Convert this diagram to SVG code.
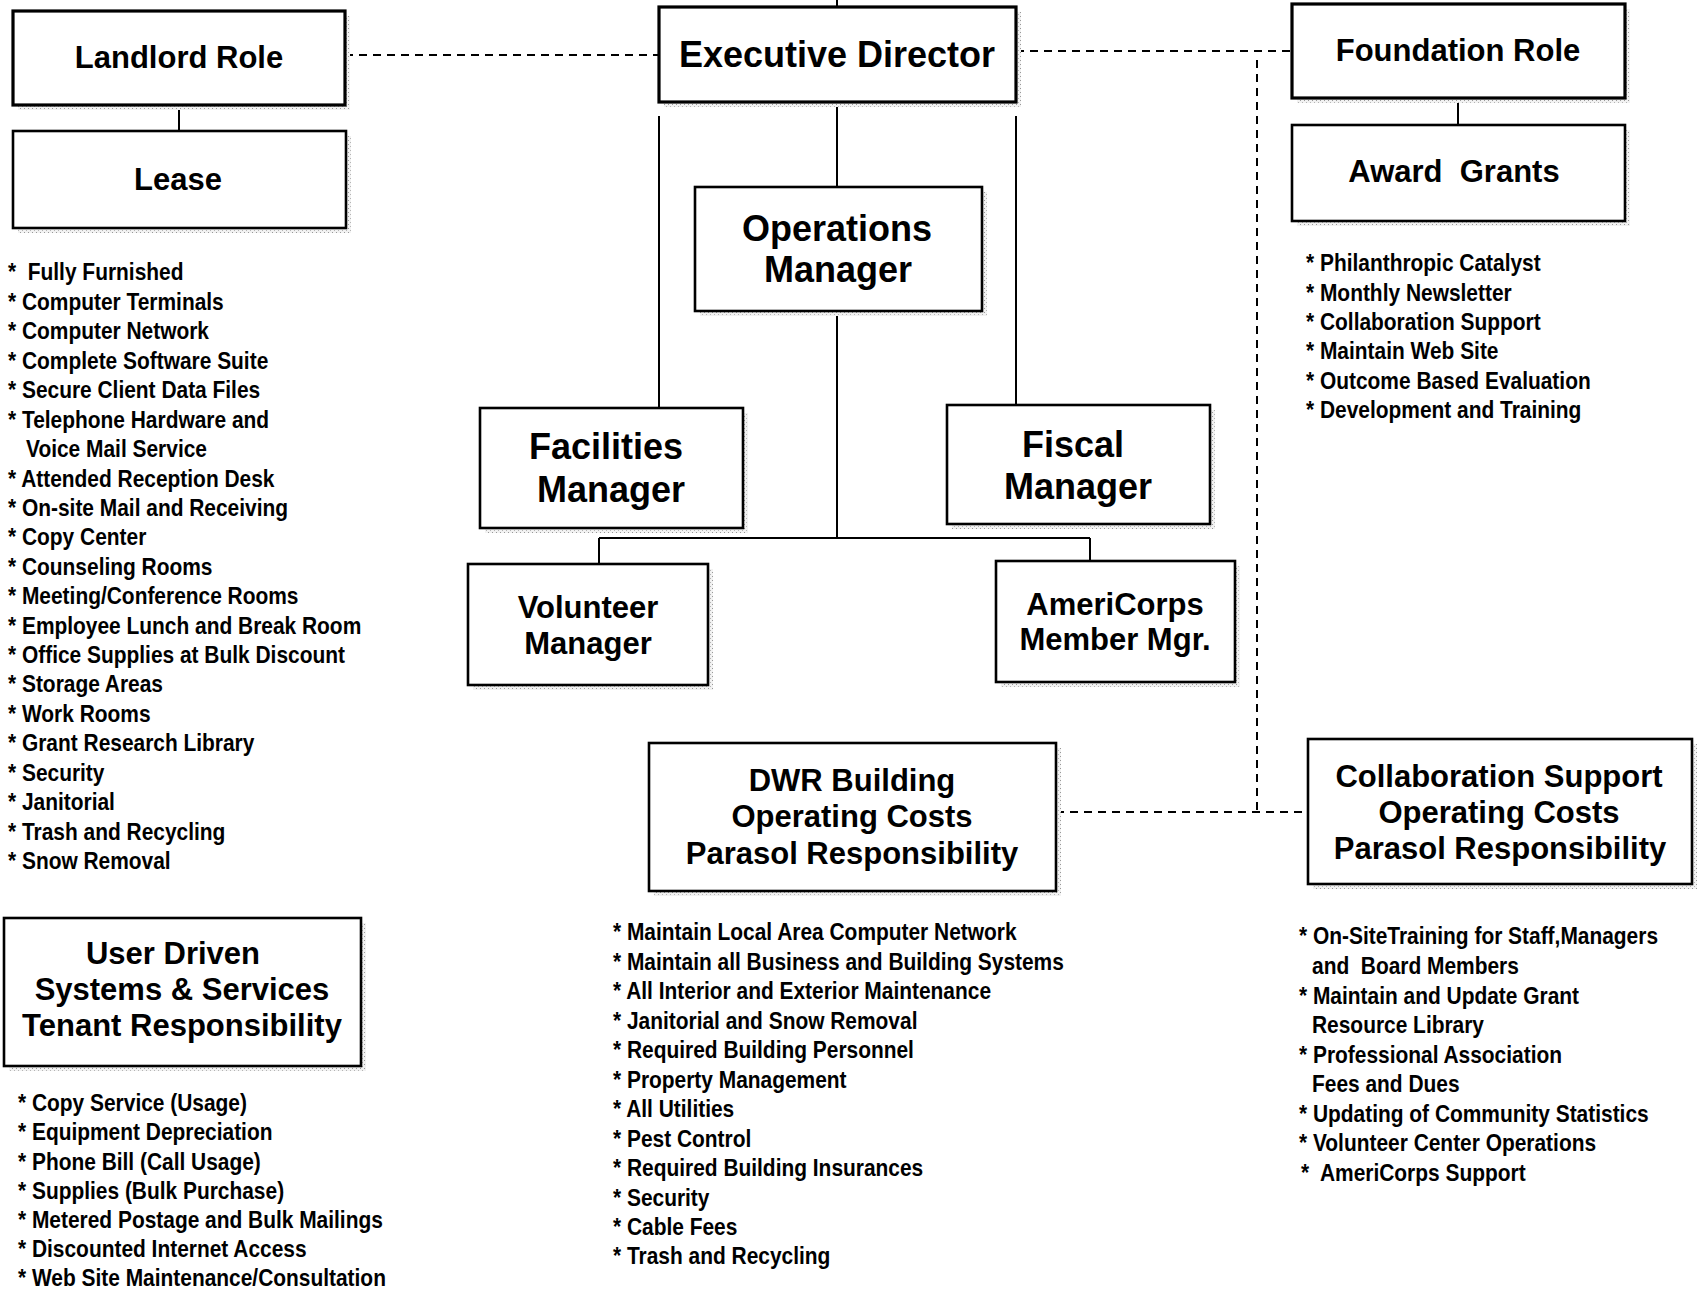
<svg xmlns="http://www.w3.org/2000/svg" width="1699" height="1299" viewBox="0 0 1699 1299">
<style>
text{font-family:"Liberation Sans",Arial,sans-serif;font-weight:bold;fill:#000}
.t31{font-size:31px;text-anchor:middle}
.t36{font-size:36px;text-anchor:middle}
.li{font-size:23px;white-space:pre}
.box{fill:#fff;stroke:#000;stroke-width:2.6}
.thick{stroke-width:3.2}
.sh{fill:url(#grain)}
.ln{stroke:#000;stroke-width:2;fill:none}
.dash{stroke:#000;stroke-width:2;fill:none;stroke-dasharray:8 6}
</style>
<defs>
<pattern id="grain" width="4" height="4" patternUnits="userSpaceOnUse">
<rect width="4" height="4" fill="#f2f2f2"/>
<rect x="0" y="0" width="1" height="1" fill="#999"/>
<rect x="2" y="2" width="1" height="1" fill="#b5b5b5"/>
</pattern>
</defs>
<rect width="1699" height="1299" fill="#fff"/>

<g id="connectors">
<line class="ln" x1="837" y1="0" x2="837" y2="7"/>
<line class="ln" x1="179" y1="105" x2="179" y2="131"/>
<line class="ln" x1="1458" y1="98" x2="1458" y2="125"/>
<line class="dash" x1="345" y1="55" x2="659" y2="55"/>
<line class="dash" x1="1016" y1="51" x2="1292" y2="51"/>
<line class="dash" x1="1257" y1="60" x2="1257" y2="812"/>
<line class="dash" x1="1056" y1="812" x2="1308" y2="812"/>
<line class="ln" x1="837" y1="102" x2="837" y2="187"/>
<line class="ln" x1="659" y1="116" x2="659" y2="408"/>
<line class="ln" x1="1016" y1="116" x2="1016" y2="405"/>
<line class="ln" x1="837" y1="311" x2="837" y2="538"/>
<line class="ln" x1="599" y1="538" x2="1090" y2="538"/>
<line class="ln" x1="599" y1="538" x2="599" y2="564"/>
<line class="ln" x1="1090" y1="538" x2="1090" y2="561"/>
</g>

<g id="landlord-role">
<rect class="sh" x="18" y="16" width="332" height="94"/>
<rect class="box thick" x="13" y="11" width="332" height="94"/>
<text class="t31" x="179" y="68">Landlord Role</text>
</g>
<g id="lease">
<rect class="sh" x="18" y="136" width="333" height="97"/>
<rect class="box" x="13" y="131" width="333" height="97"/>
<text class="t31" x="178" y="190">Lease</text>
</g>
<g id="executive-director">
<rect class="sh" x="664" y="12" width="357" height="95"/>
<rect class="box thick" x="659" y="7" width="357" height="95"/>
<text class="t36" x="837" y="67">Executive Director</text>
</g>
<g id="foundation-role">
<rect class="sh" x="1297" y="9" width="333" height="94"/>
<rect class="box thick" x="1292" y="4" width="333" height="94"/>
<text class="t31" x="1458" y="61">Foundation Role</text>
</g>
<g id="award-grants">
<rect class="sh" x="1297" y="130" width="333" height="96"/>
<rect class="box" x="1292" y="125" width="333" height="96"/>
<text class="t31" x="1454" y="182" xml:space="preserve">Award  Grants</text>
</g>
<g id="operations-manager">
<rect class="sh" x="700" y="192" width="287" height="124"/>
<rect class="box" x="695" y="187" width="287" height="124"/>
<text class="t36" x="837" y="241">Operations</text>
<text class="t36" x="838" y="282">Manager</text>
</g>
<g id="facilities-manager">
<rect class="sh" x="485" y="413" width="263" height="120"/>
<rect class="box" x="480" y="408" width="263" height="120"/>
<text class="t36" x="606" y="459">Facilities</text>
<text class="t36" x="611" y="502">Manager</text>
</g>
<g id="fiscal-manager">
<rect class="sh" x="952" y="410" width="263" height="119"/>
<rect class="box" x="947" y="405" width="263" height="119"/>
<text class="t36" x="1073" y="457">Fiscal</text>
<text class="t36" x="1078" y="499">Manager</text>
</g>
<g id="volunteer-manager">
<rect class="sh" x="473" y="569" width="240" height="121"/>
<rect class="box" x="468" y="564" width="240" height="121"/>
<text class="t31" x="588" y="618">Volunteer</text>
<text class="t31" x="588" y="654">Manager</text>
</g>
<g id="americorps-member-mgr">
<rect class="sh" x="1001" y="566" width="239" height="121"/>
<rect class="box" x="996" y="561" width="239" height="121"/>
<text class="t31" x="1115" y="615">AmeriCorps</text>
<text class="t31" x="1115" y="650">Member Mgr.</text>
</g>
<g id="dwr-building">
<rect class="sh" x="654" y="748" width="407" height="148"/>
<rect class="box" x="649" y="743" width="407" height="148"/>
<text class="t31" x="852" y="791">DWR Building</text>
<text class="t31" x="852" y="827">Operating Costs</text>
<text class="t31" x="852" y="864">Parasol Responsibility</text>
</g>
<g id="collaboration-support">
<rect class="sh" x="1313" y="744" width="384" height="145"/>
<rect class="box" x="1308" y="739" width="384" height="145"/>
<text class="t31" x="1499" y="787">Collaboration Support</text>
<text class="t31" x="1499" y="823">Operating Costs</text>
<text class="t31" x="1500" y="859">Parasol Responsibility</text>
</g>
<g id="user-driven">
<rect class="sh" x="9" y="923" width="357" height="148"/>
<rect class="box" x="4" y="918" width="357" height="148"/>
<text class="t31" x="173" y="964">User Driven</text>
<text class="t31" x="182" y="1000">Systems &amp; Services</text>
<text class="t31" x="182" y="1036">Tenant Responsibility</text>
</g>

<g id="lease-list" transform="translate(8,0) scale(0.91,1)">
<text class="li" x="0" y="280.5" xml:space="preserve">*  Fully Furnished</text>
<text class="li" x="0" y="310">* Computer Terminals</text>
<text class="li" x="0" y="339.5">* Computer Network</text>
<text class="li" x="0" y="369">* Complete Software Suite</text>
<text class="li" x="0" y="398.5">* Secure Client Data Files</text>
<text class="li" x="0" y="428">* Telephone Hardware and</text>
<text class="li" x="19.8" y="457.5">Voice Mail Service</text>
<text class="li" x="0" y="487">* Attended Reception Desk</text>
<text class="li" x="0" y="516">* On-site Mail and Receiving</text>
<text class="li" x="0" y="545.5">* Copy Center</text>
<text class="li" x="0" y="575">* Counseling Rooms</text>
<text class="li" x="0" y="604.5">* Meeting/Conference Rooms</text>
<text class="li" x="0" y="634">* Employee Lunch and Break Room</text>
<text class="li" x="0" y="663">* Office Supplies at Bulk Discount</text>
<text class="li" x="0" y="692.5">* Storage Areas</text>
<text class="li" x="0" y="722">* Work Rooms</text>
<text class="li" x="0" y="751.5">* Grant Research Library</text>
<text class="li" x="0" y="781">* Security</text>
<text class="li" x="0" y="810.5">* Janitorial</text>
<text class="li" x="0" y="840">* Trash and Recycling</text>
<text class="li" x="0" y="869.5">* Snow Removal</text>
</g>

<g id="award-grants-list" transform="translate(1306,0) scale(0.91,1)">
<text class="li" x="0" y="271.5">* Philanthropic Catalyst</text>
<text class="li" x="0" y="301">* Monthly Newsletter</text>
<text class="li" x="0" y="330.5">* Collaboration Support</text>
<text class="li" x="0" y="359.5">* Maintain Web Site</text>
<text class="li" x="0" y="389">* Outcome Based Evaluation</text>
<text class="li" x="0" y="418.5">* Development and Training</text>
</g>

<g id="dwr-list" transform="translate(613,0) scale(0.91,1)">
<text class="li" x="0" y="940.5">* Maintain Local Area Computer Network</text>
<text class="li" x="0" y="970">* Maintain all Business and Building Systems</text>
<text class="li" x="0" y="999.4">* All Interior and Exterior Maintenance</text>
<text class="li" x="0" y="1028.9">* Janitorial and Snow Removal</text>
<text class="li" x="0" y="1058.3">* Required Building Personnel</text>
<text class="li" x="0" y="1087.8">* Property Management</text>
<text class="li" x="0" y="1117.2">* All Utilities</text>
<text class="li" x="0" y="1146.7">* Pest Control</text>
<text class="li" x="0" y="1176.1">* Required Building Insurances</text>
<text class="li" x="0" y="1205.6">* Security</text>
<text class="li" x="0" y="1235">* Cable Fees</text>
<text class="li" x="0" y="1264.5">* Trash and Recycling</text>
</g>

<g id="user-driven-list" transform="translate(18,0) scale(0.91,1)">
<text class="li" x="0" y="1111.5">* Copy Service (Usage)</text>
<text class="li" x="0" y="1140.5">* Equipment Depreciation</text>
<text class="li" x="0" y="1170">* Phone Bill (Call Usage)</text>
<text class="li" x="0" y="1199">* Supplies (Bulk Purchase)</text>
<text class="li" x="0" y="1228">* Metered Postage and Bulk Mailings</text>
<text class="li" x="0" y="1257">* Discounted Internet Access</text>
<text class="li" x="0" y="1286">* Web Site Maintenance/Consultation</text>
</g>

<g id="collaboration-list" transform="translate(1299,0) scale(0.91,1)">
<text class="li" x="0" y="944.5">* On-SiteTraining for Staff,Managers</text>
<text class="li" x="14.3" y="974.5" xml:space="preserve">and  Board Members</text>
<text class="li" x="0" y="1004">* Maintain and Update Grant</text>
<text class="li" x="14.3" y="1033.5">Resource Library</text>
<text class="li" x="0" y="1063">* Professional Association</text>
<text class="li" x="14.3" y="1092.5">Fees and Dues</text>
<text class="li" x="0" y="1122">* Updating of Community Statistics</text>
<text class="li" x="0" y="1151.5">* Volunteer Center Operations</text>
<text class="li" x="2.2" y="1181" xml:space="preserve">*  AmeriCorps Support</text>
</g>
</svg>
